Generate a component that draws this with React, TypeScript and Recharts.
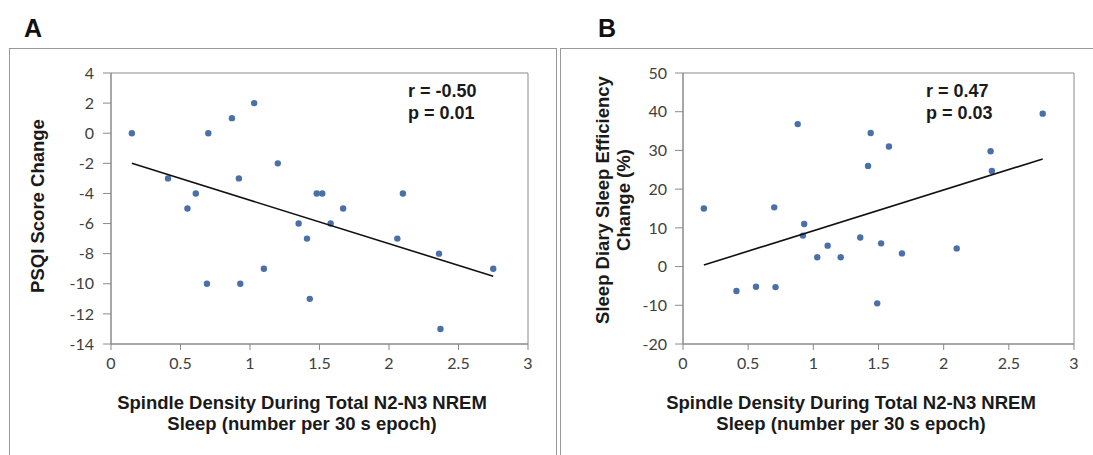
import { ScatterChart, Scatter, XAxis, YAxis, ReferenceArea, Label } from 'recharts'

// panel A: PSQI score change vs spindle density
const psqiDensity = [0.15, 0.41, 0.55, 0.61, 0.69, 0.7, 0.87, 0.92, 0.93, 1.03, 1.1, 1.2, 1.35, 1.41, 1.43, 1.48, 1.52, 1.58, 1.67, 2.06, 2.1, 2.36, 2.37, 2.75]
const psqiChange = [0, -3, -5, -4, -10, 0, 1, -3, -10, 2, -9, -2, -6, -7, -11, -4, -4, -6, -5, -7, -4, -8, -13, -9]
const psqiTrendX = [0.15, 2.75]
const psqiTrendY = [-2, -9.5]

// panel B: sleep diary efficiency change vs spindle density
const effDensity = [0.16, 0.41, 0.56, 0.7, 0.71, 0.88, 0.92, 0.93, 1.03, 1.11, 1.21, 1.36, 1.42, 1.44, 1.49, 1.52, 1.58, 1.68, 2.1, 2.36, 2.37, 2.76]
const effChange = [15, -6.3, -5.2, 15.3, -5.3, 36.8, 8, 11, 2.4, 5.4, 2.4, 7.5, 26, 34.5, -9.5, 6, 31, 3.4, 4.7, 29.8, 24.7, 39.5]
const effTrendX = [0.16, 2.76]
const effTrendY = [0.4, 27.8]

const xTicks = [0, 0.5, 1, 1.5, 2, 2.5, 3]
const psqiTicks = [-14, -12, -10, -8, -6, -4, -2, 0, 2, 4]
const effTicks = [-20, -10, 0, 10, 20, 30, 40, 50]

const DOT = '#4a70a8'
const FRAME = '#8a8a8a'
const TICK_FONT = { fill: '#404040', fontSize: 16, fontFamily: 'Lato' }
const BOLD = 'Liberation Sans, Arial, sans-serif'
const TITLE_SIZE = 18.5

const zip = (xs: number[], ys: number[]) => xs.map((x, i) => ({ x, y: ys[i] }))

const Dot = (p: any) => <circle cx={p.cx} cy={p.cy} r={3.2} fill={DOT} />
const NoDot = () => <g />

function XTitle({ cx }: { cx: number }) {
  return (
    <text textAnchor="middle" fontFamily={BOLD} fontWeight="bold" fontSize={TITLE_SIZE} fill="#1a1a1a">
      <tspan x={cx} y={409}>Spindle Density During Total N2-N3 NREM</tspan>
      <tspan x={cx} y={430}>Sleep (number per 30 s epoch)</tspan>
    </text>
  )
}

function Stats({ x, r, p }: { x: number; r: string; p: string }) {
  return (
    <text fontFamily={BOLD} fontWeight="bold" fontSize={18} fill="#1a1a1a">
      <tspan x={x} y={97}>{r}</tspan>
      <tspan x={x} y={119}>{p}</tspan>
    </text>
  )
}

function PanelA() {
  return (
    <ScatterChart width={560} height={455} margin={{ top: 73, right: 32, bottom: 81, left: 71 }}>
      <XAxis
        type="number"
        dataKey="x"
        domain={[0, 3]}
        ticks={xTicks}
        stroke={FRAME}
        tickSize={6}
        tickMargin={8}
        tick={TICK_FONT}
        height={30}
      >
        <Label content={() => <XTitle cx={302} />} />
      </XAxis>
      <YAxis
        type="number"
        dataKey="y"
        domain={[-14, 4]}
        ticks={psqiTicks}
        stroke={FRAME}
        tickSize={8}
        tickMargin={9}
        tick={TICK_FONT}
        width={40}
      >
        <Label
          content={() => (
            <text
              x={37}
              y={206}
              transform="rotate(-90 37 206)"
              textAnchor="middle"
              dominantBaseline="central"
              fontFamily={BOLD}
              fontWeight="bold"
              fontSize={TITLE_SIZE}
              fill="#1a1a1a"
            >
              PSQI Score Change
            </text>
          )}
        />
      </YAxis>
      <ReferenceArea x1={0} x2={3} y1={-14} y2={4} fill="none" stroke={FRAME} ifOverflow="visible" />
      <Scatter data={zip(psqiDensity, psqiChange)} shape={Dot} isAnimationActive={false} />
      <Scatter
        data={zip(psqiTrendX, psqiTrendY)}
        line={{ stroke: '#111', strokeWidth: 1.6 }}
        shape={NoDot}
        isAnimationActive={false}
      />
    </ScatterChart>
  )
}

function PanelB() {
  return (
    <ScatterChart width={533} height={455} margin={{ top: 73, right: 19, bottom: 81, left: 83 }}>
      <XAxis
        type="number"
        dataKey="x"
        domain={[0, 3]}
        ticks={xTicks}
        stroke={FRAME}
        tickSize={6}
        tickMargin={8}
        tick={TICK_FONT}
        height={30}
      >
        <Label content={() => <XTitle cx={291} />} />
      </XAxis>
      <YAxis
        type="number"
        dataKey="y"
        domain={[-20, 50]}
        ticks={effTicks}
        stroke={FRAME}
        tickSize={8}
        tickMargin={8}
        tick={TICK_FONT}
        width={40}
      >
        <Label
          content={() => (
            <text
              transform="rotate(-90 52 200)"
              textAnchor="middle"
              fontFamily={BOLD}
              fontWeight="bold"
              fontSize={TITLE_SIZE}
              fill="#1a1a1a"
            >
              <tspan x={52} y={197}>Sleep Diary Sleep Efficiency</tspan>
              <tspan x={52} y={218}>Change (%)</tspan>
            </text>
          )}
        />
      </YAxis>
      <ReferenceArea x1={0} x2={3} y1={-20} y2={50} fill="none" stroke={FRAME} ifOverflow="visible" />
      <Scatter data={zip(effDensity, effChange)} shape={Dot} isAnimationActive={false} />
      <Scatter
        data={zip(effTrendX, effTrendY)}
        line={{ stroke: '#111', strokeWidth: 1.6 }}
        shape={NoDot}
        isAnimationActive={false}
      />
    </ScatterChart>
  )
}

const panelLetter = (left: number): React.CSSProperties => ({
  position: 'absolute',
  left,
  top: 14,
  fontFamily: BOLD,
  fontWeight: 'bold',
  fontSize: 25,
  color: '#111',
})

export default function App() {
  return (
    <div style={{ position: 'absolute', left: 0, top: 0, width: 1093, height: 455, overflow: 'hidden', background: '#fff' }}>
      <div style={panelLetter(24)}>A</div>
      <div style={panelLetter(598)}>B</div>
      <div style={{ position: 'absolute', left: 9, top: 48, width: 546, height: 420, border: '1.5px solid #999' }} />
      <div style={{ position: 'absolute', left: 560, top: 48, width: 560, height: 420, border: '1.5px solid #999' }} />
      <div style={{ position: 'absolute', left: 0, top: 0 }}>
        <PanelA />
      </div>
      <div style={{ position: 'absolute', left: 560, top: 0 }}>
        <PanelB />
      </div>
      <svg width={1093} height={455} style={{ position: 'absolute', left: 0, top: 0, pointerEvents: 'none' }}>
        <Stats x={408} r="r = -0.50" p="p = 0.01" />
        <Stats x={926} r="r = 0.47" p="p = 0.03" />
      </svg>
    </div>
  )
}
